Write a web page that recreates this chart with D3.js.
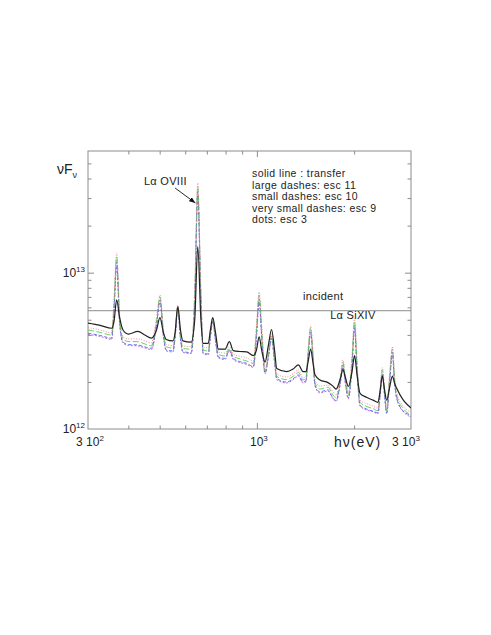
<!DOCTYPE html>
<html>
<head>
<meta charset="utf-8">
<style>
  body { margin: 0; background: #fff; }
  svg { display: block; font-family: "Liberation Sans", Arial, Helvetica, sans-serif; }
  .lbl { fill: #222; }
</style>
<script src="https://cdnjs.cloudflare.com/ajax/libs/d3/7.8.5/d3.min.js"></script>
</head>
<body>
<div id="chart"></div>
<script>
// photon energy (eV)
const energy = [300,327,355,361,368,376,385,400,428,450,
  471,489,501,514,524,550,558,569,580,590,
  626,642,656,671,682,707,718,730,744,760,
  797,822,845,886,930,975,997,1016,1037,1060,
  1086,1110,1134,1152,1237,1294,1345,1389,1419,1440,
  1467,1492,1513,1568,1660,1720,1758,1815,1846,1881,
  1919,1970,2006,2042,2086,2192,2288,2371,2405,2446,
  2484,2523,2574,2628,2667,2709,2840,2979,3000];

// nuFnu in units of 1e12
const transfer = [4.75,4.60,4.41,4.84,6.69,5.13,4.30,4.05,4.21,3.99,
  3.81,4.30,5.15,4.11,3.74,3.66,4.11,6.06,4.30,3.66,
  3.59,4.98,14.67,4.98,3.53,3.53,4.30,5.15,4.18,3.24,
  3.24,3.62,3.17,3.13,3.11,2.95,3.20,3.88,3.11,2.68,
  3.45,4.33,3.20,2.44,2.33,2.42,2.57,2.33,2.33,2.68,
  3.24,2.64,2.22,2.06,1.98,1.88,1.80,2.12,2.40,2.12,
  1.87,2.32,2.95,2.22,1.69,1.59,1.53,1.48,1.73,2.18,
  1.78,1.53,1.83,2.18,1.97,1.82,1.53,1.38,1.36];

const esc11 = [4.30,4.15,3.99,6.21,12.61,5.13,3.77,3.63,3.62,3.50,
  3.40,4.91,7.00,4.11,3.35,3.30,4.05,6.12,3.99,3.27,
  3.24,7.20,35.4,7.20,3.20,3.16,4.11,5.06,3.88,3.00,
  2.93,3.27,2.91,2.81,2.72,2.63,4.30,7.20,3.99,2.35,
  3.02,3.94,2.81,2.17,2.07,2.17,2.30,2.06,2.10,3.06,
  4.43,2.98,1.98,1.80,1.85,1.65,1.58,2.12,2.68,2.06,
  1.64,2.76,4.84,2.57,1.48,1.39,1.35,1.31,1.70,2.39,
  1.75,1.31,2.12,3.25,2.12,1.64,1.35,1.24,1.23];

const esc10 = [4.10,3.97,3.81,5.77,11.71,4.84,3.60,3.47,3.45,3.35,
  3.28,4.63,6.69,3.94,3.20,3.16,3.88,5.94,3.82,3.13,
  3.08,6.69,32.8,6.69,3.06,3.02,3.94,4.91,3.77,2.89,
  2.83,3.20,2.83,2.70,2.63,2.51,3.99,6.79,3.71,2.28,
  2.93,3.82,2.72,2.10,2.00,2.09,2.22,2.00,2.03,2.93,
  4.18,2.85,1.91,1.73,1.78,1.58,1.52,2.03,2.57,1.97,
  1.58,2.57,4.56,2.39,1.42,1.34,1.30,1.27,1.63,2.28,
  1.67,1.27,2.00,3.11,2.03,1.58,1.30,1.22,1.20];

const esc9 = [4.02,3.91,3.74,5.52,10.88,4.63,3.55,3.42,3.40,3.30,
  3.22,4.50,6.49,3.82,3.16,3.11,3.77,5.86,3.71,3.09,
  3.04,6.21,30.9,6.21,3.02,2.98,3.82,4.84,3.66,2.85,
  2.78,3.16,2.78,2.66,2.59,2.48,3.82,6.49,3.55,2.25,
  2.89,3.77,2.68,2.07,1.97,2.06,2.18,1.97,2.00,2.85,
  4.05,2.76,1.88,1.70,1.75,1.56,1.50,1.97,2.49,1.91,
  1.56,2.46,4.37,2.32,1.40,1.32,1.29,1.25,1.58,2.22,
  1.63,1.25,1.91,2.98,1.97,1.56,1.29,1.20,1.19];

const esc3 = [4.45,4.30,4.13,6.69,13.43,5.36,3.88,3.77,3.77,3.66,
  3.55,5.13,7.20,4.30,3.47,3.42,4.18,6.21,4.18,3.40,
  3.36,7.75,37.5,7.75,3.35,3.30,4.24,5.13,3.99,3.11,
  3.06,3.37,3.02,2.91,2.85,2.72,4.63,7.51,4.30,2.42,
  3.11,4.05,2.89,2.25,2.15,2.25,2.39,2.12,2.18,3.20,
  4.56,3.11,2.06,1.88,1.91,1.73,1.65,2.22,2.76,2.15,
  1.70,2.98,5.13,2.76,1.53,1.45,1.40,1.36,1.78,2.47,
  1.83,1.36,2.22,3.36,2.22,1.70,1.40,1.29,1.28];

// incident continuum (flat)
const incidentE = [300, 3000];
const incidentF = [5.71, 5.71];

const unit = 1e12;

// ticks
const xTickValues = [300, 1000, 3000];
const xTickText = [["3 10", "2"], ["10", "3"], ["3 10", "3"]];
const xMinorTicks = [400, 500, 600, 700, 800, 900, 2000];
const yTickValues = [1e12, 1e13];
const yTickText = [["10", "12"], ["10", "13"]];
const yMinorTicks = [2e12,3e12,4e12,5e12,6e12,7e12,8e12,9e12,2e13,3e13,4e13,5e13];

const legendLines = ["solid line : transfer", "large dashes: esc 11",
  "small dashes: esc 10", "very small dashes: esc 9", "dots: esc 3"];

const width = 491, height = 635;
const mLeft = 88, mRight = 411, mTop = 151, mBottom = 429;

const svg = d3.select("#chart").append("svg")
  .attr("width", width).attr("height", height);

const x = d3.scaleLog().domain([300, 3000]).range([mLeft, mRight]);
const y = d3.scaleLog().domain([1e12, 6e13]).range([mBottom, mTop]);

const frameColor = "#8c8c8c";

// frame
svg.append("rect")
  .attr("x", mLeft).attr("y", mTop)
  .attr("width", mRight - mLeft).attr("height", mBottom - mTop)
  .attr("fill", "none").attr("stroke", frameColor).attr("stroke-width", 1);

// ticks, inward on all four sides
function tickAxis(axisFn, pos, values, size) {
  const g = svg.append("g").attr("transform", pos)
    .call(axisFn.tickValues(values).tickSize(size).tickFormat(""));
  g.select(".domain").remove();
  g.selectAll("line").attr("stroke", frameColor);
}
tickAxis(d3.axisBottom(x), `translate(0,${mBottom})`, xMinorTicks, -3.5);
tickAxis(d3.axisBottom(x), `translate(0,${mBottom})`, [1000], -6);
tickAxis(d3.axisTop(x), `translate(0,${mTop})`, xMinorTicks, -3.5);
tickAxis(d3.axisTop(x), `translate(0,${mTop})`, [1000], -6);
tickAxis(d3.axisLeft(y), `translate(${mLeft},0)`, yMinorTicks, -3.5);
tickAxis(d3.axisLeft(y), `translate(${mLeft},0)`, [1e13], -6);
tickAxis(d3.axisRight(y), `translate(${mRight},0)`, yMinorTicks, -3.5);
tickAxis(d3.axisRight(y), `translate(${mRight},0)`, [1e13], -6);

// tick labels with superscripts
xTickValues.forEach((v, i) => {
  const cx = Math.min(x(v) + 2, 406);
  const t = svg.append("text").attr("class", "lbl")
    .attr("x", cx).attr("y", mBottom + 17)
    .attr("text-anchor", "middle").attr("font-size", 12);
  t.append("tspan").text(xTickText[i][0]);
  t.append("tspan").attr("font-size", 8).attr("dy", -5).text(xTickText[i][1]);
});
yTickValues.forEach((v, i) => {
  const t = svg.append("text").attr("class", "lbl")
    .attr("x", mLeft - 3).attr("y", y(v) + 4)
    .attr("text-anchor", "end").attr("font-size", 12);
  t.append("tspan").text(yTickText[i][0]);
  t.append("tspan").attr("font-size", 8).attr("dy", -5).text(yTickText[i][1]);
});

// axis titles
const yt = svg.append("text").attr("class", "lbl")
  .attr("x", 57).attr("y", 174).attr("font-size", 14);
yt.append("tspan").text("νF");
yt.append("tspan").attr("font-size", 9).attr("dy", 4).text("ν");

svg.append("text").attr("class", "lbl")
  .attr("x", 334).attr("y", 447).attr("font-size", 14)
  .attr("letter-spacing", 1).text("hν(eV)");

// incident line
const line = d3.line()
  .x(d => x(d[0]))
  .y(d => y(d[1] * unit));

svg.append("path")
  .datum(d3.zip(incidentE, incidentF))
  .attr("fill", "none").attr("stroke", frameColor).attr("stroke-width", 1)
  .attr("d", line);

// spectra
const curve = d3.line()
  .x(d => x(d[0]))
  .y(d => y(d[1] * unit))
  .curve(d3.curveMonotoneX);

const series = [
  { vals: esc9,  color: "#a24cc6", dash: "2,1.5", w: 0.8 },
  { vals: esc10, color: "#4d55f0", dash: "3.5,2", w: 0.8 },
  { vals: esc11, color: "#3cc83c", dash: "6,2.5", w: 0.8 },
  { vals: esc3,  color: "#f07a94", dash: "1,1.6", w: 0.9 },
  { vals: transfer, color: "#222", dash: null, w: 1.2 }
];

const defs = svg.append("defs");
defs.append("clipPath").attr("id", "plotclip")
  .append("rect").attr("x", mLeft).attr("y", mTop)
  .attr("width", mRight - mLeft).attr("height", mBottom - mTop);

series.forEach(s => {
  svg.append("path")
    .datum(d3.zip(energy, s.vals))
    .attr("clip-path", "url(#plotclip)")
    .attr("fill", "none")
    .attr("stroke", s.color)
    .attr("stroke-width", s.w)
    .attr("stroke-dasharray", s.dash)
    .attr("d", curve);
});

// annotations placed in data coordinates
defs.append("marker")
  .attr("id", "arrow").attr("viewBox", "0 0 10 10")
  .attr("refX", 10).attr("refY", 5)
  .attr("markerWidth", 7).attr("markerHeight", 7)
  .attr("orient", "auto")
  .append("path").attr("d", "M0,1 L10,5 L0,9 Z").attr("fill", "#111");

svg.append("line")
  .attr("x1", x(558)).attr("y1", y(34.8e12))
  .attr("x2", x(645)).attr("y2", y(27.9e12))
  .attr("stroke", "#111").attr("stroke-width", 0.9)
  .attr("marker-end", "url(#arrow)");

svg.append("text").attr("class", "lbl")
  .attr("x", x(447)).attr("y", y(36.4e12))
  .attr("font-size", 11).attr("letter-spacing", 0.3)
  .text("Lα OVIII");

svg.append("text").attr("class", "lbl")
  .attr("x", x(1389)).attr("y", y(6.69e12))
  .attr("font-size", 11).attr("letter-spacing", 0.3)
  .text("incident");

svg.append("text").attr("class", "lbl")
  .attr("x", x(1686)).attr("y", y(5.06e12))
  .attr("font-size", 11).attr("letter-spacing", 0.3)
  .text("Lα SiXIV");

// legend text
svg.append("g").selectAll("text")
  .data(legendLines)
  .join("text").attr("class", "lbl")
  .attr("x", 252)
  .attr("y", (d, i) => 177 + i * 11.6)
  .attr("font-size", 10.5)
  .attr("letter-spacing", 0.4)
  .text(d => d);
</script>
</body>
</html>
